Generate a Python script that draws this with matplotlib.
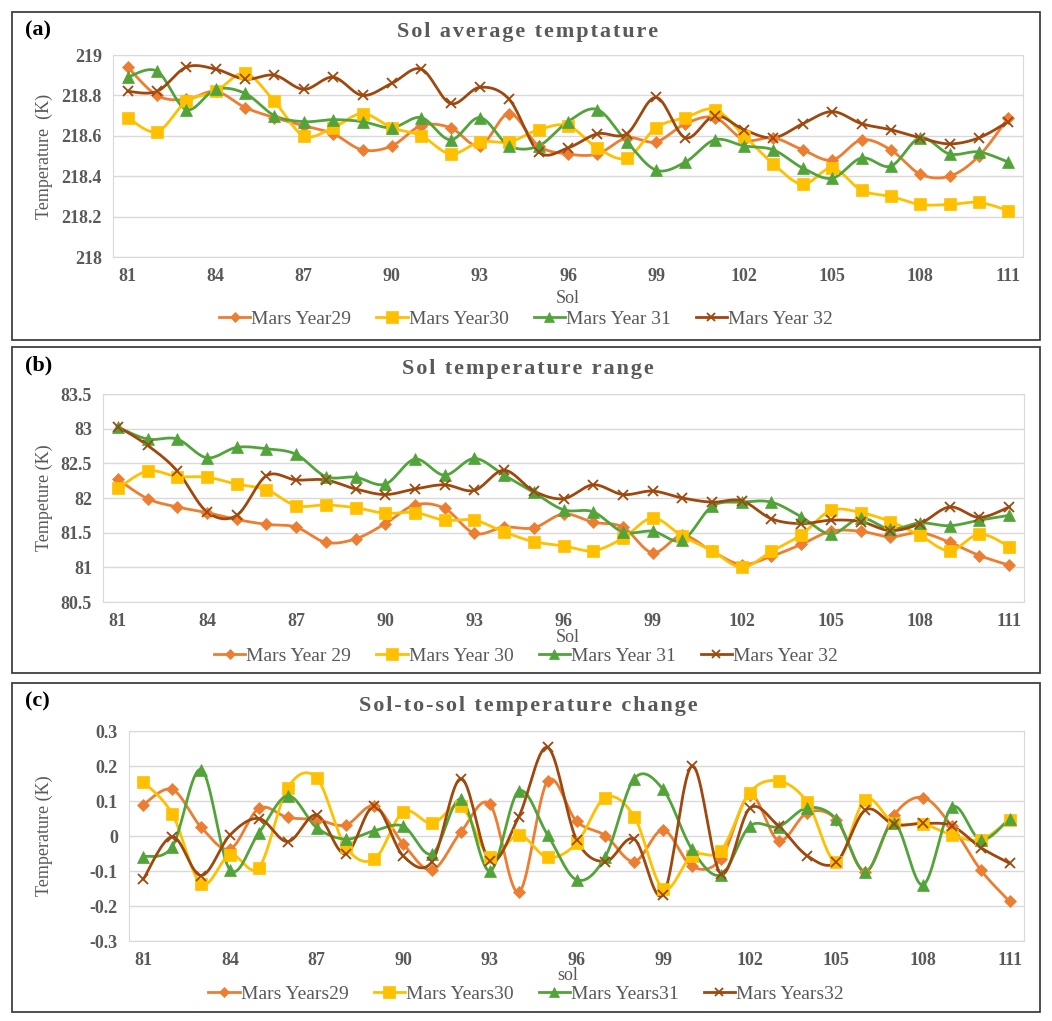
import numpy as np
import matplotlib
matplotlib.use("Agg")
import matplotlib.pyplot as plt
from matplotlib.lines import Line2D
from matplotlib.patches import Rectangle

plt.rcParams['font.family'] = ['Liberation Serif', 'DejaVu Serif']

sols = list(range(81, 112))

# -> (a) sol average temperature (K)
avg_y29 = [218.94, 218.80, 218.78, 218.82, 218.74, 218.69, 218.65, 218.61, 218.53, 218.55,
           218.65, 218.64, 218.55, 218.71, 218.55, 218.51, 218.51, 218.59, 218.57, 218.66,
           218.69, 218.58, 218.59, 218.53, 218.48, 218.58, 218.53, 218.41, 218.40, 218.50, 218.69]
avg_y30 = [218.69, 218.62, 218.77, 218.82, 218.91, 218.77, 218.60, 218.64, 218.71, 218.64,
           218.60, 218.51, 218.57, 218.57, 218.63, 218.65, 218.54, 218.49, 218.64, 218.69,
           218.73, 218.60, 218.46, 218.36, 218.44, 218.33, 218.30, 218.26, 218.26, 218.27, 218.23]
avg_y31 = [218.89, 218.92, 218.73, 218.83, 218.81, 218.70, 218.67, 218.68, 218.67, 218.64,
           218.69, 218.58, 218.69, 218.55, 218.55, 218.67, 218.73, 218.57, 218.43, 218.47,
           218.58, 218.55, 218.53, 218.44, 218.39, 218.49, 218.45, 218.59, 218.51, 218.52, 218.47]
avg_y32 = [218.82, 218.82, 218.94, 218.93, 218.88, 218.90, 218.83, 218.89, 218.80, 218.86,
           218.93, 218.76, 218.84, 218.78, 218.52, 218.54, 218.61, 218.61, 218.79, 218.59,
           218.70, 218.63, 218.59, 218.66, 218.72, 218.66, 218.63, 218.59, 218.56, 218.59, 218.67]

# -> (b) sol temperature range (K)
rng_y29 = [82.27, 81.99, 81.87, 81.79, 81.69, 81.62, 81.58, 81.36, 81.41, 81.63,
           81.90, 81.85, 81.49, 81.58, 81.57, 81.77, 81.65, 81.58, 81.21, 81.46,
           81.23, 81.04, 81.16, 81.33, 81.52, 81.52, 81.44, 81.50, 81.36, 81.17, 81.03]
rng_y30 = [82.14, 82.39, 82.31, 82.30, 82.20, 82.12, 81.89, 81.90, 81.86, 81.78,
           81.79, 81.68, 81.68, 81.51, 81.37, 81.31, 81.24, 81.42, 81.71, 81.45,
           81.24, 81.00, 81.23, 81.47, 81.82, 81.79, 81.66, 81.46, 81.24, 81.48, 81.30]
rng_y31 = [83.02, 82.85, 82.85, 82.58, 82.73, 82.71, 82.63, 82.31, 82.30, 82.20,
           82.56, 82.33, 82.57, 82.33, 82.08, 81.83, 81.80, 81.51, 81.52, 81.39,
           81.88, 81.94, 81.94, 81.73, 81.48, 81.71, 81.55, 81.64, 81.60, 81.68, 81.75]
rng_y32 = [83.03, 82.76, 82.39, 81.80, 81.75, 82.32, 82.26, 82.26, 82.13, 82.05,
           82.13, 82.19, 82.11, 82.40, 82.10, 81.99, 82.19, 82.05, 82.10, 82.00,
           81.94, 81.96, 81.70, 81.63, 81.68, 81.66, 81.53, 81.63, 81.87, 81.72, 81.87]

# -> (c) sol-to-sol temperature change (K)
chg_y29 = [0.090, 0.133, 0.025, -0.037, 0.079, 0.053, 0.047, 0.031, 0.085, -0.023,
           -0.097, 0.012, 0.091, -0.161, 0.157, 0.042, 0.001, -0.073, 0.017, -0.087,
           -0.066, 0.117, -0.013, 0.067, 0.047, -0.102, 0.060, 0.110, 0.028, -0.097, -0.187]
chg_y30 = [0.155, 0.063, -0.137, -0.054, -0.090, 0.138, 0.166, -0.030, -0.066, 0.069,
           0.036, 0.085, -0.059, 0.003, -0.061, -0.021, 0.110, 0.055, -0.151, -0.056,
           -0.042, 0.124, 0.157, 0.096, -0.073, 0.104, 0.036, 0.034, 0.003, -0.011, 0.047]
chg_y31 = [-0.059, -0.030, 0.190, -0.097, 0.009, 0.115, 0.024, -0.009, 0.015, 0.028,
           -0.051, 0.105, -0.100, 0.128, 0.003, -0.125, -0.059, 0.164, 0.133, -0.038,
           -0.111, 0.028, 0.027, 0.081, 0.048, -0.102, 0.036, -0.140, 0.082, -0.011, 0.050]
chg_y32 = [-0.123, -0.002, -0.113, 0.003, 0.050, -0.016, 0.060, -0.051, 0.085, -0.057,
           -0.073, 0.164, -0.071, 0.055, 0.253, -0.010, -0.073, -0.009, -0.168, 0.200,
           -0.108, 0.079, 0.028, -0.057, -0.075, 0.074, 0.033, 0.036, 0.029, -0.033, -0.078]

colors = ['#ED7D31', '#FFC000', '#52A43A', '#9E480E']
markers = ['D', 's', '^', 'x']
msizes = [6, 9, 8, 7]

W, H = 1052, 1021
TXT = '#595959'


def smooth(x, y, n=20):
    # -> Catmull-Rom curve through the points, like Excel's smoothed line
    p = np.column_stack([x, y]).astype(float)
    out = []
    for i in range(len(p) - 1):
        p0 = p[max(i - 1, 0)]
        p1 = p[i]
        p2 = p[i + 1]
        p3 = p[min(i + 2, len(p) - 1)]
        t = np.linspace(0, 1, n)[:, None]
        seg = 0.5 * (2 * p1 + (-p0 + p2) * t + (2 * p0 - 5 * p1 + 4 * p2 - p3) * t ** 2
                     + (-p0 + 3 * p1 - 3 * p2 + p3) * t ** 3)
        out.append(seg if i == 0 else seg[1:])
    out = np.vstack(out)
    return out[:, 0], out[:, 1]


def spaced(s):
    # -> widen the title letters a little (hair space between characters)
    return '\u200a'.join(s)


def px_rect(left, top, right, bottom):
    return [left / W, 1 - bottom / H, (right - left) / W, (bottom - top) / H]


def draw_panel(fig, rect, box, series, labels, ylim, yticks,
               title, ylabel, xlabel, tag, title_y, xlabel_y, legend_y, ylabel_x):
    # -> outer frame
    l, t, r, b = box
    fig.patches.append(Rectangle((l / W, 1 - b / H), (r - l) / W, (b - t) / H,
                                 transform=fig.transFigure, fill=False,
                                 edgecolor='#404040', linewidth=1.3))
    fig.text((l + 13) / W, 1 - (t + 18) / H, tag, fontsize=16, fontweight='bold',
             ha='left', va='center', color='black')

    ax = fig.add_axes(px_rect(*rect))
    for vals, c, m, ms in zip(series, colors, markers, msizes):
        xs, ys = smooth(sols, vals)
        ax.plot(xs, ys, color=c, linewidth=2.0, zorder=2)
        ax.plot(sols, vals, linestyle='none', marker=m, color=c, markersize=ms,
                markeredgewidth=1.3 if m == 'x' else 0.5, zorder=3)

    ax.set_xlim(80.5, 111.5)
    ax.set_ylim(*ylim)
    ax.set_xticks(range(81, 112, 3))
    ax.set_yticks(yticks)
    ax.set_yticklabels([f"{v:g}" for v in yticks])
    ax.grid(axis='y', color='#D9D9D9', linewidth=1.0)
    ax.set_axisbelow(True)
    for s in ax.spines.values():
        s.set_color('#D9D9D9')
    ax.tick_params(length=0, labelsize=13, labelcolor=TXT, pad=8)
    for lab in ax.get_xticklabels() + ax.get_yticklabels():
        lab.set_fontweight('bold')

    fig.text(528 / W, 1 - title_y / H, spaced(title), fontsize=16,
             fontweight='bold', color=TXT, ha='center', va='center')
    fig.text(ylabel_x / W, 1 - (rect[1] + rect[3]) / 2 / H, ylabel, fontsize=13,
             color=TXT, rotation=90, ha='center', va='center')
    fig.text(0.5 + 0.04, 1 - xlabel_y / H, xlabel, fontsize=13, color=TXT,
             ha='center', va='center')

    handles = [Line2D([], [], color=c, marker=m, markersize=ms * 0.9, linewidth=2.0,
                      markeredgewidth=1.3 if m == 'x' else 0.5)
               for c, m, ms in zip(colors, markers, msizes)]
    fig.legend(handles, labels, loc='center', bbox_to_anchor=(0.5, 1 - legend_y / H),
               ncol=4, frameon=False, fontsize=14, handlelength=1.6,
               handletextpad=0.05, columnspacing=1.3, labelcolor=TXT)
    return ax


fig = plt.figure(figsize=(W / 100, H / 100), dpi=100)

draw_panel(fig, (113, 55, 1023, 257), (12, 12, 1040, 340),
           [avg_y29, avg_y30, avg_y31, avg_y32],
           ['Mars Year29', 'Mars Year30', 'Mars Year 31', 'Mars Year 32'],
           (218, 219), [218, 218.2, 218.4, 218.6, 218.8, 219],
           'Sol average temptature', 'Temperature  (K)', 'Sol', '(a)',
           32, 298, 319, 44)

draw_panel(fig, (103, 394, 1024, 602), (12, 347, 1040, 673),
           [rng_y29, rng_y30, rng_y31, rng_y32],
           ['Mars Year 29', 'Mars Year 30', 'Mars Year 31', 'Mars Year 32'],
           (80.5, 83.5), [80.5, 81, 81.5, 82, 82.5, 83, 83.5],
           'Sol temperature range', 'Tempeture (K)', 'Sol', '(b)',
           369, 637, 656, 44)

draw_panel(fig, (129, 731, 1024, 941), (12, 683, 1040, 1012),
           [chg_y29, chg_y30, chg_y31, chg_y32],
           ['Mars Years29', 'Mars Years30', 'Mars Years31', 'Mars Years32'],
           (-0.3, 0.3), [-0.3, -0.2, -0.1, 0, 0.1, 0.2, 0.3],
           'Sol-to-sol temperature change', 'Temperature (K)', 'sol', '(c)',
           706, 975, 994, 44)

fig.savefig('out.png', dpi=100, facecolor='white')
